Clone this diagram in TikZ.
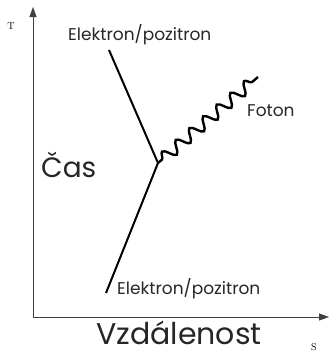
\documentclass[tikz,border=0pt]{standalone}
\usepackage{fontspec}
\setsansfont{Poppins}
\usetikzlibrary{arrows.meta,decorations.pathmorphing}
\begin{document}
\begin{tikzpicture}[x=1pt,y=-1pt,
  axis/.style={draw=black!75,line width=0.9pt,-{Triangle[width=7pt,length=10pt]}},
  particle/.style={draw=black,line width=2pt},
  photon/.style={draw=black,line width=2.4pt,decorate,decoration={snake,segment length=18pt,amplitude=6pt,post length=4pt,pre length=5pt}},
  lbl/.style={font=\sffamily\fontsize{17}{17}\selectfont,inner sep=0pt,anchor=base west,text=black!85},
  big/.style={font=\sffamily\fontsize{28}{28}\selectfont,inner sep=0pt,anchor=base west,text=black!85},
  ax/.style={font=\fontsize{10}{10}\selectfont,inner sep=0pt}]
\useasboundingbox (0,0) rectangle (329,356);
\coordinate (o) at (33,318);
\coordinate (ytop) at (33,7);
\coordinate (xend) at (329,317);
\draw[axis] (o) -- (ytop);
\draw[axis] (32.5,317) -- (xend);
\coordinate (top) at (109,50);
\coordinate (v) at (158,163);
\coordinate (bot) at (106,293);
\coordinate (ph) at (258,77);
\draw[particle] (top) -- (v) -- (bot);
\draw[photon] (v) -- (ph);
\node[ax] (T) at (11,26) {T};
\node[ax] (S) at (314,347) {S};
\node[lbl] (e1) at (68,40) {Elektron/pozitron};
\node[lbl] (e2) at (117,294) {Elektron/pozitron};
\node[lbl] (f) at (247,116) {Foton};
\node[big] (cas) at (41,177) {Čas};
\node[big,font=\sffamily\fontsize{30}{30}\selectfont] (vz) at (96,344) {Vzdálenost};
\end{tikzpicture}
\end{document}
